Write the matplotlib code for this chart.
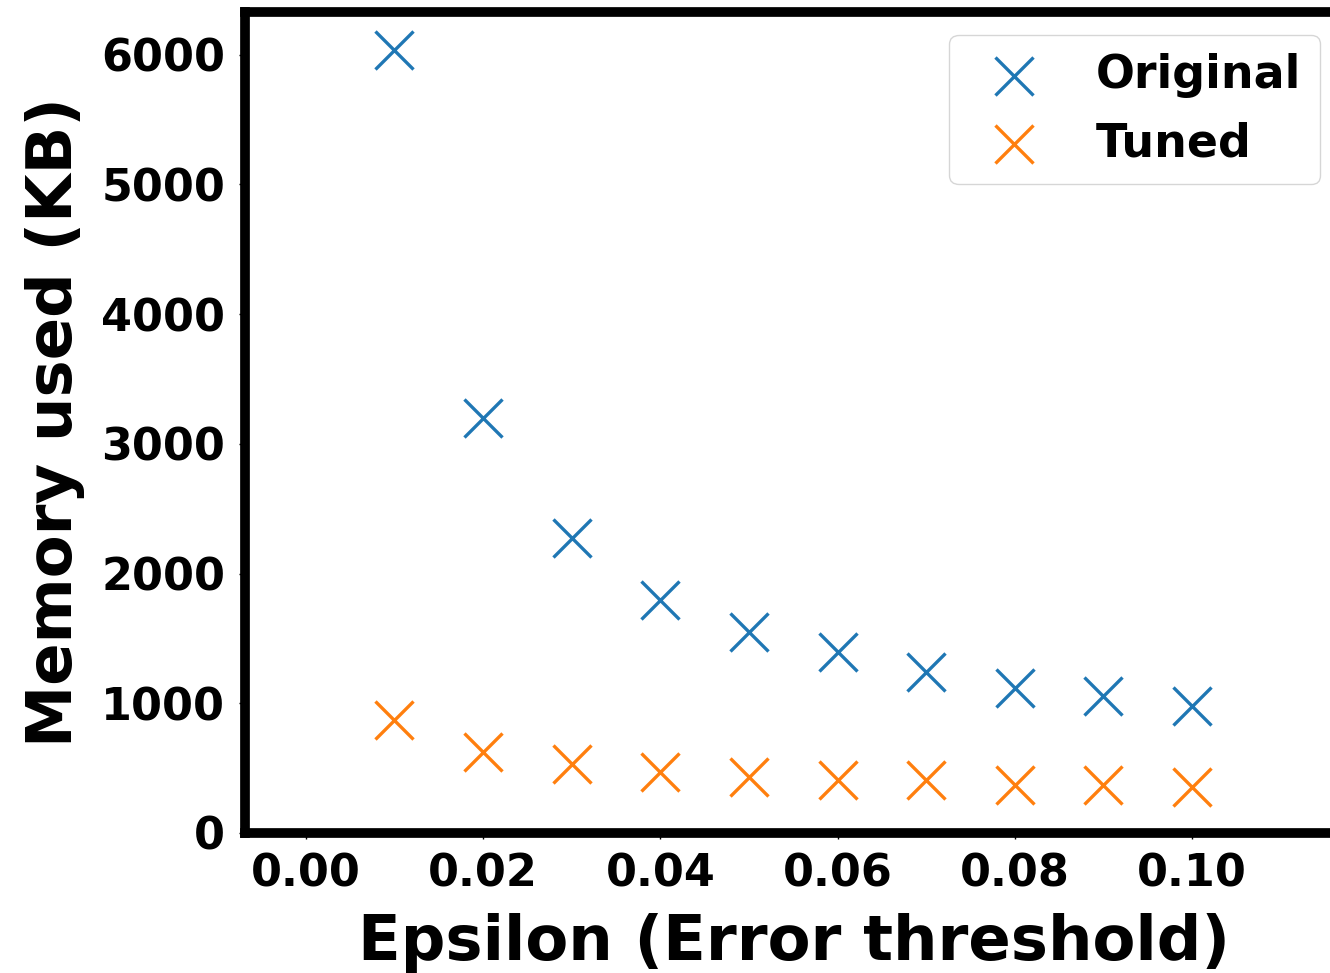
import matplotlib
matplotlib.use("Agg")
import matplotlib.pyplot as plt
import numpy as np

# epsilon values and memory usage (KB)
epsilon = [0.01, 0.02, 0.03, 0.04, 0.05, 0.06, 0.07, 0.08, 0.09, 0.10]
original = [6040, 3200, 2275, 1800, 1550, 1395, 1245, 1120, 1055, 980]
tuned = [870, 625, 530, 470, 432, 410, 408, 372, 370, 355]

plt.rcParams['font.family'] = ['DejaVu Sans']
plt.rcParams['font.weight'] = 'bold'

fig = plt.figure(figsize=(13.3, 9.73), dpi=100)
ax = fig.add_axes([0.184, 0.1439, 0.8256, 0.8438])

ax.scatter(epsilon, original, marker='x', s=750, linewidths=2.4, c='#1f77b4', label='Original')
ax.scatter(epsilon, tuned, marker='x', s=750, linewidths=2.4, c='#ff7f0e', label='Tuned')

ax.set_xlim(-0.0069, 0.117)
ax.set_ylim(0, 6330)
ax.set_xticks(np.arange(0, 0.101, 0.02))
ax.set_yticks(np.arange(0, 6001, 1000))

for sp in ax.spines.values():
    sp.set_linewidth(7)
ax.tick_params(axis='both', labelsize=32, width=1, length=4, pad=10)
for lbl in ax.get_xticklabels() + ax.get_yticklabels():
    lbl.set_fontweight('bold')

ax.set_xlabel('Epsilon (Error threshold)', fontsize=45, fontweight='bold', labelpad=13)
ax.set_ylabel('Memory used (KB)', fontsize=45, fontweight='bold', labelpad=12)

leg = ax.legend(loc='upper right', prop={'weight': 'bold', 'size': 33})

fig.savefig('out.png', dpi=100)
